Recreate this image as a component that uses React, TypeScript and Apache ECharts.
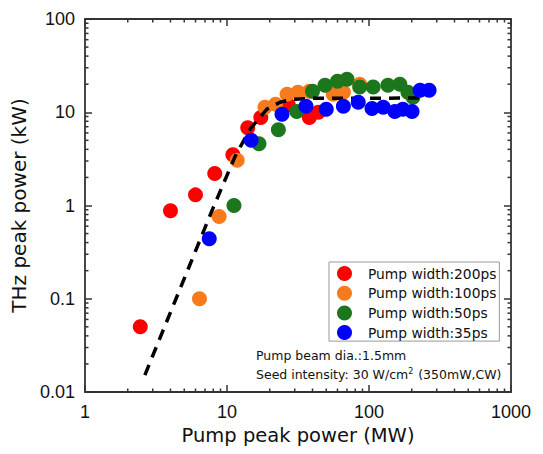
import React, { useEffect, useRef } from "react";
import * as echarts from "echarts";

const seriesNames = ["Pump width:200ps", "Pump width:100ps", "Pump width:50ps", "Pump width:35ps"];
const seriesColors = ["#ff0000", "#f77a1c", "#1c761c", "#0000ff"];

const red200: number[][] = [
  [2.45, 0.05], [4, 0.88], [6, 1.3], [8.2, 2.2], [11, 3.5], [14, 6.8], [17.3, 8.8],
  [27, 12], [38, 8.8], [44, 10],
];
const orange100: number[][] = [
  [6.4, 0.1], [8.8, 0.76], [11.8, 3.05], [18.5, 11.3], [22, 12.2], [26.5, 15.6],
  [31.6, 16.4], [38, 16.8], [56, 15.6], [66, 16.4], [86, 20],
];
const green50: number[][] = [
  [11.2, 1.0], [16.8, 4.6], [23, 6.5], [31, 10.2], [40, 16.8], [49, 19.5], [60, 21.5],
  [70, 22.6], [86, 18.6], [107, 18.6], [136, 19.5], [165, 20], [188, 16.4], [204, 14.5],
];
const blue35: number[][] = [
  [7.5, 0.44], [14.8, 5.0], [24.4, 9.5], [36, 11.6], [50, 10.8], [66, 11.6], [84, 12.8],
  [105, 11], [126, 11.3], [152, 10.2], [173, 10.8], [201, 10.2], [229, 17.2], [265, 17.2],
];
const fitCurve: number[][] = [
  [2.64, 0.0152], [8, 0.95], [11.4, 3.36], [14.5, 6.56], [19.1, 10.8], [23.6, 12.8],
  [29.2, 13.8], [40, 14.1], [255, 14.2],
];

const xMinorTicks = [2, 3, 4, 5, 6, 7, 8, 9, 20, 30, 40, 50, 60, 70, 80, 90, 200, 300, 400, 500, 600, 700, 800, 900];
const yMinorTicks = [
  0.02, 0.03, 0.04, 0.05, 0.06, 0.07, 0.08, 0.09, 0.2, 0.3, 0.4, 0.5, 0.6, 0.7, 0.8, 0.9,
  2, 3, 4, 5, 6, 7, 8, 9, 20, 30, 40, 50, 60, 70, 80, 90,
];
const annotationLine1 = "Pump beam dia.:1.5mm";
const annotationLine2 = "Seed intensity: 30 W/cm{sup|2} (350mW,CW)";

const X_MIN = 1, X_MAX = 1000, Y_MIN = 0.01, Y_MAX = 100;
const axisColor = "#333";
const textFont = "DejaVu Sans";
const numFont = "Liberation Sans";

export default function App() {
  const ref = useRef<HTMLDivElement>(null);
  useEffect(() => {
    if (!ref.current) return;
    const chart = echarts.init(ref.current, null, { renderer: "svg" });
    const scatter = (i: number, data: number[][], z: number) => ({
      type: "scatter",
      name: seriesNames[i],
      data,
      symbol: "circle",
      symbolSize: 15,
      itemStyle: { color: seriesColors[i], opacity: 1 },
      z,
    });
    const axisCommon = {
      type: "log",
      logBase: 10,
      axisLine: { show: true, lineStyle: { color: axisColor, width: 1.8 } },
      axisTick: { show: true, inside: true, length: 7, lineStyle: { color: axisColor, width: 1.5 } },
      splitLine: { show: false },
      minorTick: { show: false },
    };
    const fmt = (v: number) => String(v);
    chart.setOption({
      animation: false,
      backgroundColor: "#fff",
      grid: { left: 85, right: 32, top: 19, bottom: 62, containLabel: false },
      xAxis: [
        {
          ...axisCommon,
          min: X_MIN,
          max: X_MAX,
          position: "bottom",
          axisLabel: { color: "#111", fontSize: 18, fontFamily: numFont, margin: 11, formatter: fmt },
          name: "Pump peak power (MW)",
          nameLocation: "middle",
          nameGap: 31,
          nameTextStyle: { color: "#111", fontSize: 19.5, fontFamily: textFont },
        },
        { ...axisCommon, min: X_MIN, max: X_MAX, position: "top", axisLabel: { show: false } },
      ],
      yAxis: [
        {
          ...axisCommon,
          min: Y_MIN,
          max: Y_MAX,
          position: "left",
          axisLabel: { color: "#111", fontSize: 18, fontFamily: numFont, margin: 10, formatter: fmt },
          name: "THz peak power (kW)",
          nameLocation: "middle",
          nameGap: 39,
          nameTextStyle: { color: "#111", fontSize: 20, fontFamily: textFont },
        },
        { ...axisCommon, min: Y_MIN, max: Y_MAX, position: "right", axisLabel: { show: false } },
      ],
      legend: {
        show: true,
        data: seriesNames,
        orient: "vertical",
        left: 329,
        top: 262,
        padding: [4, 3, 1, 8],
        itemWidth: 15,
        itemHeight: 15,
        itemGap: 4.7,
        icon: "circle",
        borderColor: "#999",
        borderWidth: 1,
        backgroundColor: "#fff",
        textStyle: { color: "#111", fontSize: 13.8, lineHeight: 15, fontFamily: textFont, padding: [0, 0, 0, 11] },
      },
      series: [
        scatter(0, red200, 2),
        scatter(1, orange100, 3),
        scatter(2, green50, 4),
        {
          type: "line",
          data: fitCurve,
          showSymbol: false,
          symbol: "none",
          lineStyle: { color: "#000", width: 3.5, type: [11, 8] },
          z: 5,
          silent: true,
        },
        scatter(3, blue35, 6),
      ],
    });

    const toPx = (p: number[]) => chart.convertToPixel({ gridIndex: 0 }, p) as number[];
    const tickStyle = { stroke: axisColor, lineWidth: 1.5 };
    const len = 3.5;
    const minor: any[] = [];
    xMinorTicks.forEach((v) => {
      const b = toPx([v, Y_MIN]);
      const t = toPx([v, Y_MAX]);
      minor.push({ type: "line", silent: true, z: 20, shape: { x1: b[0], y1: b[1], x2: b[0], y2: b[1] - len }, style: tickStyle });
      minor.push({ type: "line", silent: true, z: 20, shape: { x1: t[0], y1: t[1], x2: t[0], y2: t[1] + len }, style: tickStyle });
    });
    yMinorTicks.forEach((v) => {
      const l = toPx([X_MIN, v]);
      const r = toPx([X_MAX, v]);
      minor.push({ type: "line", silent: true, z: 20, shape: { x1: l[0], y1: l[1], x2: l[0] + len, y2: l[1] }, style: tickStyle });
      minor.push({ type: "line", silent: true, z: 20, shape: { x1: r[0], y1: r[1], x2: r[0] - len, y2: r[1] }, style: tickStyle });
    });
    const texts = [
      {
        type: "text",
        x: 256,
        y: 355,
        z: 10,
        style: { text: annotationLine1, fill: "#111", fontSize: 12.5, fontFamily: textFont, verticalAlign: "middle", align: "left" },
      },
      {
        type: "text",
        x: 256,
        y: 374,
        z: 10,
        style: {
          text: annotationLine2,
          fill: "#111",
          fontSize: 12.5,
          fontFamily: textFont,
          verticalAlign: "middle",
          align: "left",
          rich: {
            sup: { fontSize: 8, fontFamily: textFont, fill: "#111", verticalAlign: "top", padding: [0, 1, 6, 0] },
          },
        },
      },
    ];
    chart.setOption({ graphic: [...minor, ...texts] });
    return () => chart.dispose();
  }, []);
  return <div ref={ref} style={{ position: "absolute", left: 0, top: 0, width: 543, height: 454 }} />;
}
